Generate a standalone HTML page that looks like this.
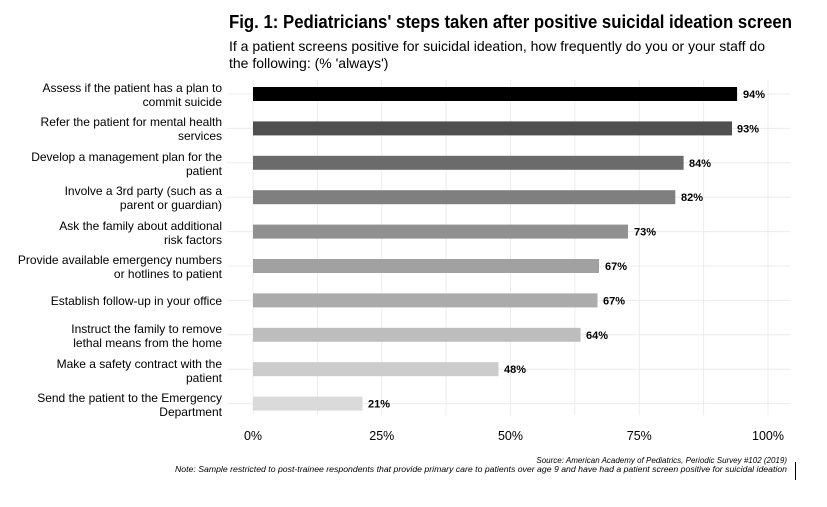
<!DOCTYPE html>
<html><head><meta charset="utf-8"><style>
html,body{margin:0;padding:0;background:#fff;}
svg{display:block;font-family:"Liberation Sans",Arial,sans-serif;}
</style></head><body>
<svg width="827" height="507" xmlns="http://www.w3.org/2000/svg">
<rect width="827" height="507" fill="#fff"/>
<text x="229" y="28" font-size="18" font-weight="bold" textLength="563" lengthAdjust="spacingAndGlyphs" fill="#000">Fig. 1: Pediatricians' steps taken after positive suicidal ideation screen</text>
<text x="229" y="51" font-size="14" textLength="536" lengthAdjust="spacingAndGlyphs" fill="#000">If a patient screens positive for suicidal ideation, how frequently do you or your staff do</text>
<text x="229" y="68" font-size="14" fill="#000">the following: (% 'always')</text>
<g stroke="#ececec" stroke-width="1">
<line x1="253" y1="80" x2="253" y2="415"/><line x1="317.4" y1="80" x2="317.4" y2="415"/>
<line x1="381.8" y1="80" x2="381.8" y2="415"/><line x1="446.1" y1="80" x2="446.1" y2="415"/>
<line x1="510.5" y1="80" x2="510.5" y2="415"/><line x1="574.9" y1="80" x2="574.9" y2="415"/>
<line x1="639.3" y1="80" x2="639.3" y2="415"/><line x1="703.6" y1="80" x2="703.6" y2="415"/>
<line x1="768" y1="80" x2="768" y2="415"/>
<line x1="227" y1="94" x2="790" y2="94"/><line x1="227" y1="128.4" x2="790" y2="128.4"/>
<line x1="227" y1="162.8" x2="790" y2="162.8"/><line x1="227" y1="197.2" x2="790" y2="197.2"/>
<line x1="227" y1="231.6" x2="790" y2="231.6"/><line x1="227" y1="266" x2="790" y2="266"/>
<line x1="227" y1="300.4" x2="790" y2="300.4"/><line x1="227" y1="334.8" x2="790" y2="334.8"/>
<line x1="227" y1="369.2" x2="790" y2="369.2"/><line x1="227" y1="403.6" x2="790" y2="403.6"/>
</g>
<g>
<rect x="253" y="87" width="484.1" height="14" fill="#000"/>
<rect x="253" y="121.4" width="479" height="14" fill="#4f4f4f"/>
<rect x="253" y="155.8" width="430.6" height="14" fill="#6b6b6b"/>
<rect x="253" y="190.2" width="422.3" height="14" fill="#7f7f7f"/>
<rect x="253" y="224.6" width="375" height="14" fill="#909090"/>
<rect x="253" y="259" width="346" height="14" fill="#a1a1a1"/>
<rect x="253" y="293.4" width="344.5" height="14" fill="#ababab"/>
<rect x="253" y="327.8" width="327.6" height="14" fill="#bdbdbd"/>
<rect x="253" y="362.2" width="245.5" height="14" fill="#cccccc"/>
<rect x="253" y="396.6" width="109.5" height="14" fill="#dadada"/>
</g>
<g font-size="11" font-weight="bold" fill="#000">
<text x="743" y="98">94%</text><text x="737" y="132.4">93%</text>
<text x="689" y="166.8">84%</text><text x="681" y="201.2">82%</text>
<text x="634" y="235.6">73%</text><text x="605" y="270">67%</text>
<text x="603" y="304.4">67%</text><text x="586" y="338.8">64%</text>
<text x="504" y="373.2">48%</text><text x="368" y="407.6">21%</text>
</g>
<g font-size="12" fill="#000" text-anchor="end">
<text x="222" y="92">Assess if the patient has a plan to</text><text x="222" y="106">commit suicide</text>
<text x="222" y="126">Refer the patient for mental health</text><text x="222" y="140">services</text>
<text x="222" y="161">Develop a management plan for the</text><text x="222" y="175">patient</text>
<text x="222" y="195">Involve a 3rd party (such as a</text><text x="222" y="209">parent or guardian)</text>
<text x="222" y="230">Ask the family about additional</text><text x="222" y="244">risk factors</text>
<text x="222" y="264">Provide available emergency numbers</text><text x="222" y="278">or hotlines to patient</text>
<text x="222" y="305">Establish follow-up in your office</text>
<text x="222" y="333">Instruct the family to remove</text><text x="222" y="347">lethal means from the home</text>
<text x="222" y="368">Make a safety contract with the</text><text x="222" y="382">patient</text>
<text x="222" y="402">Send the patient to the Emergency</text><text x="222" y="416">Department</text>
</g>
<g font-size="12.5" fill="#000" text-anchor="middle">
<text x="253" y="440">0%</text><text x="381.8" y="440">25%</text><text x="510.5" y="440">50%</text>
<text x="639.3" y="440">75%</text><text x="768" y="440">100%</text>
</g>
<g font-size="8" font-style="italic" fill="#000" text-anchor="end">
<text x="787" y="463">Source: American Academy of Pediatrics, Periodic Survey #102 (2019)</text>
<text x="787" y="472" textLength="612" lengthAdjust="spacingAndGlyphs">Note: Sample restricted to post-trainee respondents that provide primary care to patients over age 9 and have had a patient screen positive for suicidal ideation</text>
</g>
<line x1="795.5" y1="462" x2="795.5" y2="480" stroke="#000" stroke-width="1"/>
</svg>
</body></html>
